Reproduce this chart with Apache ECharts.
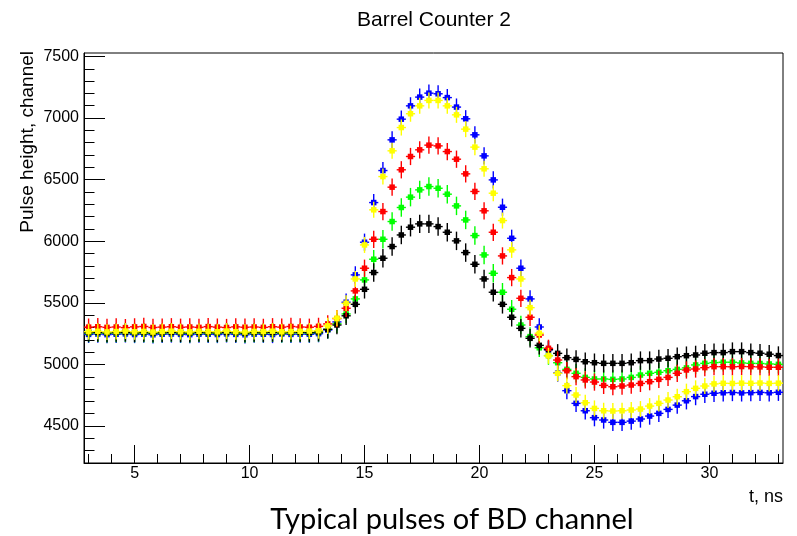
<!DOCTYPE html>
<html>
<head>
<meta charset="utf-8">
<script src="https://cdn.jsdelivr.net/npm/echarts@6/dist/echarts.min.js"></script>
<style>
html,body{margin:0;padding:0;background:#fff;}
#chart{width:797px;height:536px;}
</style>
</head>
<body>
<div id="chart"></div>
<script>
// ---- data ----
const tValues = [3.0,3.4,3.8,4.2,4.6,5.0,5.4,5.8,6.2,6.6,7.0,7.4,7.8,8.2,8.6,9.0,9.4,9.8,10.2,10.6,11.0,11.4,11.8,12.2,12.6,13.0,13.4,13.8,14.2,14.6,15.0,15.4,15.8,16.2,16.6,17.0,17.4,17.8,18.2,18.6,19.0,19.4,19.8,20.2,20.6,21.0,21.4,21.8,22.2,22.6,23.0,23.4,23.8,24.2,24.6,25.0,25.4,25.8,26.2,26.6,27.0,27.4,27.8,28.2,28.6,29.0,29.4,29.8,30.2,30.6,31.0,31.4,31.8,32.2,32.6,33.0];
const binHalfWidth = 0.2;

const blueValues = [5244,5247,5242,5245,5248,5243,5246,5241,5245,5247,5244,5242,5246,5245,5243,5248,5244,5241,5246,5245,5243,5247,5244,5246,5245,5250,
  5280,5345,5505,5727,5992,6314,6574,6823,6991,7099,7170,7202,
  7197,7166,7089,6994,6864,6693,6498,6276,6024,5781,5532,5304,
  5120,4930,4787,4684,4624,4568,4549,4530,4530,4540,4557,4581,
  4603,4635,4670,4705,4739,4758,4766,4770,4772,4769,4771,4773,4770,4774];
const yellowValues = [5266,5269,5264,5267,5271,5265,5268,5263,5267,5270,5266,5264,5269,5267,5265,5271,5266,5263,5268,5267,5270,5265,5267,5269,5271,5274,
  5313,5375,5496,5694,5970,6255,6525,6734,6923,7035,7099,7143,
  7143,7099,7026,6910,6764,6588,6390,6168,5930,5694,5461,5253,
  5070,4928,4828,4752,4689,4643,4624,4622,4624,4630,4638,4662,
  4684,4711,4738,4779,4806,4825,4842,4847,4846,4848,4847,4849,4846,4848];
const redValues = [5303,5306,5301,5304,5299,5305,5308,5300,5303,5306,5302,5304,5301,5307,5303,5300,5305,5302,5304,5301,5306,5303,5308,5304,5302,5309,
  5329,5372,5456,5597,5781,6016,6241,6439,6580,6688,6742,6780,
  6774,6728,6666,6547,6404,6247,6073,5881,5705,5537,5383,5239,
  5131,5036,4949,4901,4874,4857,4830,4819,4825,4833,4846,4860,
  4879,4895,4928,4955,4963,4974,4982,4982,4981,4983,4982,4980,4977,4977];
const greenValues = [5255,5257,5253,5256,5258,5254,5256,5252,5255,5258,5254,5253,5257,5255,5254,5258,5255,5252,5256,5255,5257,5254,5256,5257,5255,5260,
  5285,5330,5410,5532,5686,5854,6016,6160,6274,6358,6417,6444,
  6430,6382,6287,6173,6046,5889,5740,5586,5448,5320,5226,5135,
  5072,5014,4960,4928,4895,4882,4882,4879,4882,4895,4914,4928,
  4936,4949,4960,4972,4996,5009,5015,5018,5018,5012,5009,5008,5004,5001];
const blackValues = [5258,5260,5256,5259,5261,5257,5259,5255,5258,5261,5257,5256,5260,5258,5257,5261,5258,5255,5259,5258,5260,5257,5259,5260,5258,5263,
  5285,5320,5395,5488,5610,5746,5862,5957,6051,6114,6141,6141,
  6119,6073,6003,5908,5813,5694,5586,5488,5383,5293,5212,5155,
  5120,5090,5055,5041,5022,5014,5009,5009,5009,5014,5031,5031,
  5044,5050,5063,5071,5077,5091,5096,5096,5104,5104,5096,5091,5083,5072];

// vertical error half-lengths per series
const seriesErrors = {blue:70, yellow:65, red:70, green:75, black:75};

// tick values
const xMajorTicks = [5,10,15,20,25,30];
const xMinorTicks = [3,4,6,7,8,9,11,12,13,14,16,17,18,19,21,22,23,24,26,27,28,29,31,32,33];
const yMajorTicks = [4500,5000,5500,6000,6500,7000,7500];
const yMinorTicks = [4200,4300,4400,4600,4700,4800,4900,5100,5200,5300,5400,5600,5700,5800,5900,6100,6200,6300,6400,6600,6700,6800,6900,7100,7200,7300,7400];

const chartTitle = 'Barrel Counter 2';
const yTitle = 'Pulse height, channel';
const xTitle = 't, ns';
const caption = 'Typical pulses of BD channel';

// ---- chart ----
const chart = echarts.init(document.getElementById('chart'), null, {renderer:'canvas'});
const FONT = 'Liberation Sans';

function pts(vals){ return tValues.map((t,i)=>[t, vals[i]]); }

function makeSeries(name, color, vals, err){
  return {
    type:'custom', name:name, xAxisIndex:0, yAxisIndex:0, clip:true,
    data: pts(vals),
    renderItem: function(params, api){
      const t = api.value(0), v = api.value(1);
      const c = api.coord([t, v]);
      const top = api.coord([t, v + err]);
      const bot = api.coord([t, v - err]);
      const l = api.coord([t - binHalfWidth, v]);
      const r = api.coord([t + binHalfWidth, v]);
      const ms = 5.5;
      return {type:'group', children:[
        {type:'line', shape:{x1:c[0], y1:top[1], x2:c[0], y2:bot[1]}, style:{stroke:color, lineWidth:1.4}},
        {type:'line', shape:{x1:l[0], y1:c[1], x2:r[0], y2:c[1]}, style:{stroke:color, lineWidth:1.4}},
        {type:'rect', shape:{x:c[0]-ms/2, y:c[1]-ms/2, width:ms, height:ms}, style:{fill:color}}
      ]};
    }
  };
}

const XMIN = 2.8, XMAX = 33.2, YMIN = 4200, YMAX = 7528;
const plainNum = v => String(v);

const option = {
  animation:false,
  backgroundColor:'#fff',
  textStyle:{fontFamily:FONT},
  grid:{left:84, top:53, width:699, height:410, show:true, borderColor:'#000', borderWidth:1, backgroundColor:'transparent', containLabel:false, outerBoundsMode:'none'},
  xAxis:[
    {type:'value', min:XMIN, max:XMAX, position:'bottom',
     axisLine:{show:true, onZero:false, lineStyle:{color:'#000', width:1}},
     axisTick:{show:true, inside:true, length:18, customValues:xMajorTicks, lineStyle:{color:'#000', width:1}},
     axisLabel:{show:true, customValues:xMajorTicks, formatter:plainNum, color:'#000', fontSize:16, fontFamily:FONT, margin:3},
     splitLine:{show:false}},
    {type:'value', min:XMIN, max:XMAX, position:'bottom',
     axisLine:{show:false, onZero:false},
     axisTick:{show:true, inside:true, length:9, customValues:xMinorTicks, lineStyle:{color:'#000', width:1}},
     axisLabel:{show:false},
     splitLine:{show:false}}
  ],
  yAxis:[
    {type:'value', min:YMIN, max:YMAX, position:'left',
     axisLine:{show:true, onZero:false, lineStyle:{color:'#000', width:1}},
     axisTick:{show:true, inside:true, length:21, customValues:yMajorTicks, lineStyle:{color:'#000', width:1}},
     axisLabel:{show:true, customValues:yMajorTicks, formatter:plainNum, color:'#000', fontSize:16, fontFamily:FONT, margin:5},
     splitLine:{show:false}},
    {type:'value', min:YMIN, max:YMAX, position:'left', offset:0,
     axisLine:{show:false, onZero:false},
     axisTick:{show:true, inside:true, length:10.5, customValues:yMinorTicks, lineStyle:{color:'#000', width:1}},
     axisLabel:{show:false},
     splitLine:{show:false}}
  ],
  graphic:[
    {type:'text', x:434, y:20, style:{text:chartTitle, fontSize:21, fontFamily:FONT, fill:'#000', align:'center', verticalAlign:'middle', textAlign:'center', textVerticalAlign:'middle'}},
    {type:'text', x:28, y:51, rotation:Math.PI/2, style:{text:yTitle, fontSize:19, fontFamily:FONT, fill:'#000', align:'right', verticalAlign:'middle', textAlign:'right', textVerticalAlign:'middle'}},
    {type:'text', x:783, y:497, style:{text:xTitle, fontSize:18, fontFamily:FONT, fill:'#000', align:'right', verticalAlign:'middle', textAlign:'right', textVerticalAlign:'middle'}},
    {type:'text', x:452, y:520, style:{text:caption, fontSize:29, fontFamily:'Lato', fill:'#000', align:'center', verticalAlign:'middle', textAlign:'center', textVerticalAlign:'middle'}}
  ],
  series:[
    makeSeries('blue', '#0000ff', blueValues, seriesErrors.blue),
    makeSeries('green', '#00ff00', greenValues, seriesErrors.green),
    makeSeries('black', '#000000', blackValues, seriesErrors.black),
    makeSeries('red', '#ff0000', redValues, seriesErrors.red),
    makeSeries('yellow', '#ffff00', yellowValues, seriesErrors.yellow)
  ]
};
chart.setOption(option);
</script>
</body>
</html>
